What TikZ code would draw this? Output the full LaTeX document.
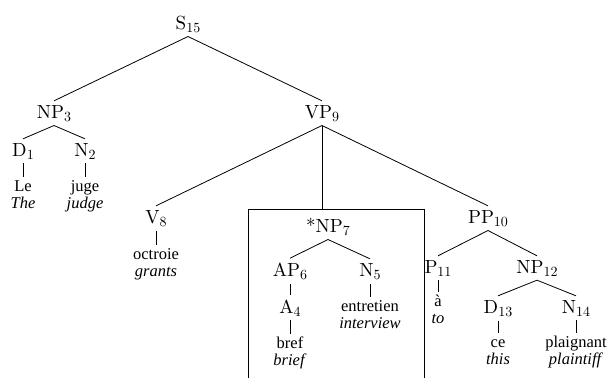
\documentclass[tikz,border=0pt]{standalone}
\usepackage{fontspec}
\newfontfamily\wordfont{Liberation Serif}
\newfontfamily\catfont{lmroman10-regular.otf}
\newcommand\lsub[1]{\raisebox{-3pt}{\fontsize{14}{15}\selectfont #1}}
\begin{document}
\begin{tikzpicture}[x=1pt,y=-1pt,
  cat/.style={font=\catfont\fontsize{19}{22}\selectfont, inner xsep=0pt, inner ysep=4pt, anchor=base},
  word/.style={font=\wordfont\fontsize{16.5}{17.5}\selectfont, align=center, inner sep=2.5pt, anchor=north},
  edge/.style={line width=0.8pt},
  boxline/.style={line width=0.9pt}]
\useasboundingbox (0,0) rectangle (608,378);
% category labels
\node[cat] (S)    at (188,29)  {S\lsub{15}};
\node[cat] (NP3)  at (54,118)  {NP\lsub{3}};
\node[cat] (VP9)  at (322,118) {VP\lsub{9}};
\node[cat] (D1)   at (23,156)  {D\lsub{1}};
\node[cat] (N2)   at (85,156)  {N\lsub{2}};
\node[cat] (V8)   at (156,223) {V\lsub{8}};
\node[cat] (NP7)  at (328,232) {*NP\lsub{7}};
\node[cat] (PP10) at (488,223) {PP\lsub{10}};
\node[cat] (AP6)  at (290,276) {AP\lsub{6}};
\node[cat] (N5)   at (370,276) {N\lsub{5}};
\node[cat] (P11)  at (438,273) {P\lsub{11}};
\node[cat] (NP12) at (537,273) {NP\lsub{12}};
\node[cat] (A4)   at (290,313) {A\lsub{4}};
\node[cat] (D13)  at (498,313) {D\lsub{13}};
\node[cat] (N14)  at (576,313) {N\lsub{14}};
% words
\node[word] (w1) at (23,177)  {\rule{0pt}{11.5pt}Le\\\textit{The}};
\node[word] (w2) at (85,177)  {\rule{0pt}{11.5pt}juge\\\textit{judge}};
\node[word] (w3) at (156,245) {\rule{0pt}{11.5pt}octroie\\\textit{grants}};
\node[word] (w4) at (290,334) {\rule{0pt}{11.5pt}bref\\\textit{brief}};
\node[word] (w5) at (370,297) {\rule{0pt}{11.5pt}entretien\\\textit{interview}};
\node[word] (w6) at (438,292) {\rule{0pt}{11.5pt}à\\\textit{to}};
\node[word] (w7) at (498,333) {\rule{0pt}{11.5pt}ce\\\textit{this}};
\node[word] (w8) at (576,333) {\rule{0pt}{11.5pt}plaignant\\\textit{plaintiff}};
% box (open at the bottom)
\coordinate (bl) at (248,378);
\coordinate (tl) at (248,209);
\coordinate (boxtop) at (322,209);
\coordinate (tr) at (424,209);
\coordinate (br) at (424,378);
\draw[boxline] (bl) -- (tl) -- (tr) -- (br);
% tree edges
\draw[edge] (S.south) -- (NP3.north);
\draw[edge] (S.south) -- (VP9.north);
\draw[edge] (NP3.south) -- (D1.north);
\draw[edge] (NP3.south) -- (N2.north);
\draw[edge] (VP9.south) -- (V8.north);
\draw[edge] (VP9.south) -- (boxtop);
\draw[edge] (VP9.south) -- (PP10.north);
\draw[edge] (NP7.south) -- (AP6.north);
\draw[edge] (NP7.south) -- (N5.north);
\draw[edge] (PP10.south) -- (P11.north);
\draw[edge] (PP10.south) -- (NP12.north);
\draw[edge] (NP12.south) -- (D13.north);
\draw[edge] (NP12.south) -- (N14.north);
% vertical ticks
\draw[edge] (D1.south) -- (w1.north);
\draw[edge] (N2.south) -- (w2.north);
\draw[edge] (V8.south) -- (w3.north);
\draw[edge] (AP6.south) -- (A4.north);
\draw[edge] (A4.south) -- (w4.north);
\draw[edge] (N5.south) -- (w5.north);
\draw[edge] (P11.south) -- (w6.north);
\draw[edge] (D13.south) -- (w7.north);
\draw[edge] (N14.south) -- (w8.north);
\end{tikzpicture}
\end{document}
